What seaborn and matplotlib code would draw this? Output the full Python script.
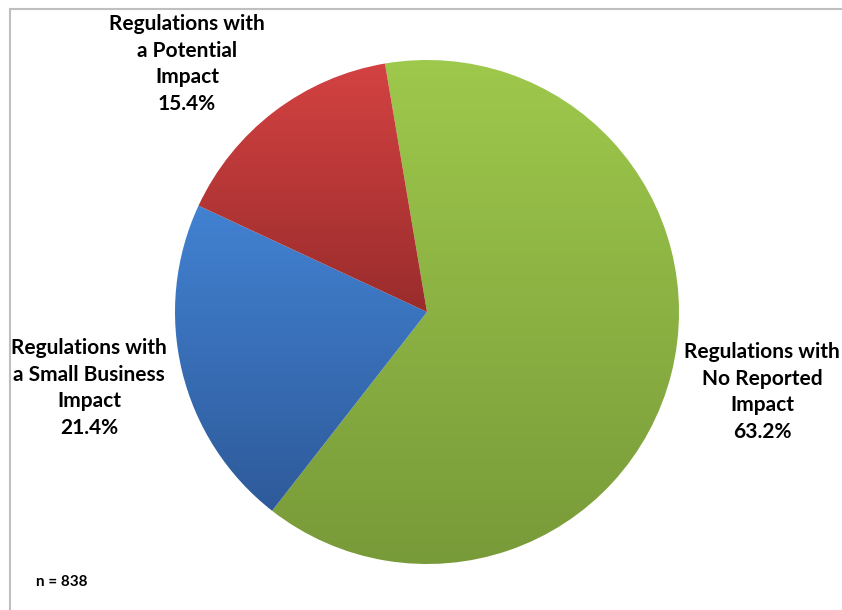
import numpy as np
import matplotlib
matplotlib.use("Agg")
import matplotlib.pyplot as plt
import seaborn as sns
from matplotlib.colors import LinearSegmentedColormap

categories = ["Regulations with\nNo Reported\nImpact",
              "Regulations with\na Small Business\nImpact",
              "Regulations with\na Potential\nImpact"]
values = [63.2, 21.4, 15.4]
pct_labels = ["63.2%", "21.4%", "15.4%"]
n_label = "n = 838"

top_colors = ["#9ec94c", "#4282d2", "#d44242"]
bottom_colors = ["#789a39", "#2e5a9a", "#9a2c2c"]

sns.set_theme(style="white")
plt.rcParams['font.family'] = ['Lato', 'DejaVu Sans']

W, H = 842, 610
fig = plt.figure(figsize=(W / 100, H / 100), dpi=100)
fig.patch.set_facecolor("white")

cx, cy, r = 427, 312, 252
ax = fig.add_axes([(cx - r) / W, (H - cy - r) / H, 2 * r / W, 2 * r / H])
ax.set_xlim(-1, 1)
ax.set_ylim(-1, 1)
ax.set_aspect("equal")
ax.axis("off")

wedges, _ = ax.pie(values, startangle=99.6, counterclock=False, radius=1,
                   center=(0, 0), colors=["none"] * 3,
                   wedgeprops=dict(linewidth=0, edgecolor="none"))
ax.set_xlim(-1, 1)
ax.set_ylim(-1, 1)

for w, tc, bc in zip(wedges, top_colors, bottom_colors):
    path = w.get_path()
    verts = path.vertices
    y0, y1 = verts[:, 1].min(), verts[:, 1].max()
    cmap = LinearSegmentedColormap.from_list("g", [bc, tc])
    grad = np.linspace(0, 1, 256).reshape(-1, 1)
    im = ax.imshow(grad, cmap=cmap, extent=[-1, 1, y0, y1], origin="lower",
                   aspect="auto", zorder=2, interpolation="bilinear")
    im.set_clip_path(w)
ax.set_xlim(-1, 1)
ax.set_ylim(-1, 1)

def ftxt(x, y, s, ha="center"):
    fig.text(x / W, 1 - y / H, s, ha=ha, va="center", fontsize=15,
             fontweight="bold", color="black", linespacing=1.4)

lab_pos = [(762, 392), (89, 388), (187, 64)]
for (x, y), c, p in zip(lab_pos, categories, pct_labels):
    ftxt(x, y, c + "\n" + p)

fig.text(36 / W, 1 - 582 / H, n_label, ha="left", va="center", fontsize=11,
         fontweight="bold", color="black")

# border lines (top and left)
fig.add_artist(plt.Line2D([9.5 / W, 1], [1 - 8.5 / H, 1 - 8.5 / H],
                          color="#bfbfbf", lw=1.5, transform=fig.transFigure))
fig.add_artist(plt.Line2D([9.5 / W, 9.5 / W], [0, 1 - 8.5 / H],
                          color="#bfbfbf", lw=1.5, transform=fig.transFigure))

fig.savefig("out.png", dpi=100, facecolor="white")
